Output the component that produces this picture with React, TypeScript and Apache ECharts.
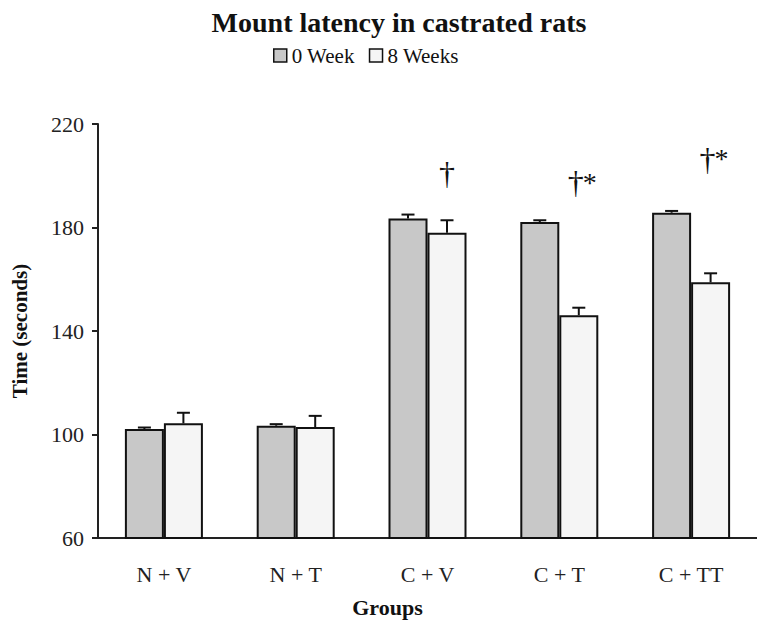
import React, { useEffect, useRef } from "react";
import * as echarts from "echarts";

const categories = ["N + V", "N + T", "C + V", "C + T", "C + TT"];
const week0 = [102.1, 103.4, 183.5, 182.1, 185.7];
const week0Err = [0.6, 0.6, 1.5, 0.7, 0.7];
const week8 = [104.3, 102.9, 178.0, 146.1, 158.8];
const week8Err = [4.1, 4.3, 4.8, 2.9, 3.5];
const yTicks = [60, 100, 140, 180, 220];
// significance marks above the 8 Weeks bars: [category index, value, dagger, star]
const marks: [number, number, string, string][] = [
  [2, 201, "†", ""],
  [3, 197.5, "†", "*"],
  [4, 206.5, "†", "*"],
];

const FONT = "'Liberation Serif', 'Times New Roman', serif";
const BAR_W = 39;

export default function App() {
  const ref = useRef<HTMLDivElement>(null);
  useEffect(() => {
    if (!ref.current) return;
    const chart = echarts.init(ref.current, undefined, { renderer: "svg" });
    const errData = (vals: number[], errs: number[], side: number) =>
      vals.map((v, i) => [i, v, errs[i], side]);
    const errRender = (params: any, api: any) => {
      const idx = api.value(0);
      const v = api.value(1);
      const e = api.value(2);
      const side = api.value(3);
      const base = api.coord([idx, v]);
      const top = api.coord([idx, v + e]);
      const x = base[0] + side * (BAR_W / 2);
      const style = { stroke: "#111", lineWidth: 2 };
      return {
        type: "group",
        children: [
          { type: "line", shape: { x1: x, y1: base[1], x2: x, y2: top[1] }, style },
          { type: "line", shape: { x1: x - 6.5, y1: top[1], x2: x + 6.5, y2: top[1] }, style },
        ],
      };
    };
    chart.setOption({
      animation: false,
      textStyle: { fontFamily: FONT },
      title: {
        text: "Mount latency in castrated rats",
        left: 394,
        textAlign: "center",
        top: 3,
        textStyle: { fontFamily: FONT, fontSize: 28, fontWeight: "bold", color: "#111" },
      },
      legend: {
        data: ["0 Week", "8 Weeks"],
        left: 268,
        top: 40,
        icon: "rect",
        itemWidth: 13,
        itemHeight: 13,
        itemGap: 14,
        itemStyle: { borderWidth: 1.5 },
        textStyle: { fontFamily: FONT, fontSize: 21, color: "#111" },
      },
      grid: { left: 98, top: 124, width: 667, height: 414 },
      xAxis: {
        type: "category",
        data: categories,
        name: "Groups",
        nameLocation: "middle",
        nameGap: 58,
        nameTextStyle: {
          fontFamily: FONT,
          fontSize: 22,
          fontWeight: "bold",
          color: "#111",
          padding: [0, 80, 0, 0],
        },
        axisLine: { lineStyle: { color: "#222", width: 2 } },
        axisTick: { show: false },
        axisLabel: { fontFamily: FONT, fontSize: 22, color: "#222", margin: 25 },
      },
      yAxis: {
        type: "value",
        min: 60,
        max: 220,
        name: "Time (seconds)",
        nameLocation: "middle",
        nameGap: 68,
        nameTextStyle: { fontFamily: FONT, fontSize: 21, fontWeight: "bold", color: "#111" },
        axisLine: { show: true, lineStyle: { color: "#222", width: 2 } },
        axisTick: { show: true, length: 6, lineStyle: { color: "#222", width: 2 }, customValues: yTicks },
        axisLabel: { fontFamily: FONT, fontSize: 22, color: "#222", margin: 14, customValues: yTicks },
        splitLine: { show: false },
      },
      series: [
        {
          name: "0 Week",
          type: "bar",
          data: week0,
          barWidth: BAR_W,
          barGap: "0%",
          itemStyle: { color: "#c8c8c8", borderColor: "#111", borderWidth: 2 },
        },
        {
          name: "8 Weeks",
          type: "bar",
          data: week8,
          barWidth: BAR_W,
          barGap: "0%",
          itemStyle: { color: "#f5f5f5", borderColor: "#111", borderWidth: 2 },
        },
        {
          type: "custom",
          data: errData(week0, week0Err, -1),
          renderItem: errRender,
          z: 5,
          silent: true,
        },
        {
          type: "custom",
          data: errData(week8, week8Err, 1),
          renderItem: errRender,
          z: 5,
          silent: true,
        },
        {
          type: "custom",
          data: marks.map((m) => [m[0], m[1]]),
          z: 6,
          silent: true,
          renderItem: (params: any, api: any) => {
            const m = marks[params.dataIndex];
            const p = api.coord([api.value(0), api.value(1)]);
            const x = p[0] + BAR_W / 2 - (m[3] ? 3 : 0);
            return {
              type: "group",
              children: [
                {
                  type: "text",
                  x,
                  y: p[1],
                  style: {
                    text: m[2],
                    fontFamily: FONT,
                    fontSize: 32,
                    fill: "#111",
                    align: "center",
                    verticalAlign: "middle",
                  },
                },
                {
                  type: "text",
                  x: x + 14,
                  y: p[1],
                  style: {
                    text: m[3],
                    fontFamily: FONT,
                    fontSize: 28,
                    fill: "#111",
                    align: "center",
                    verticalAlign: "middle",
                  },
                },
              ],
            };
          },
        },
      ],
    });
    return () => chart.dispose();
  }, []);
  return (
    <div
      ref={ref}
      style={{ position: "absolute", left: 0, top: 0, width: 757, height: 625, background: "#fff" }}
    />
  );
}
